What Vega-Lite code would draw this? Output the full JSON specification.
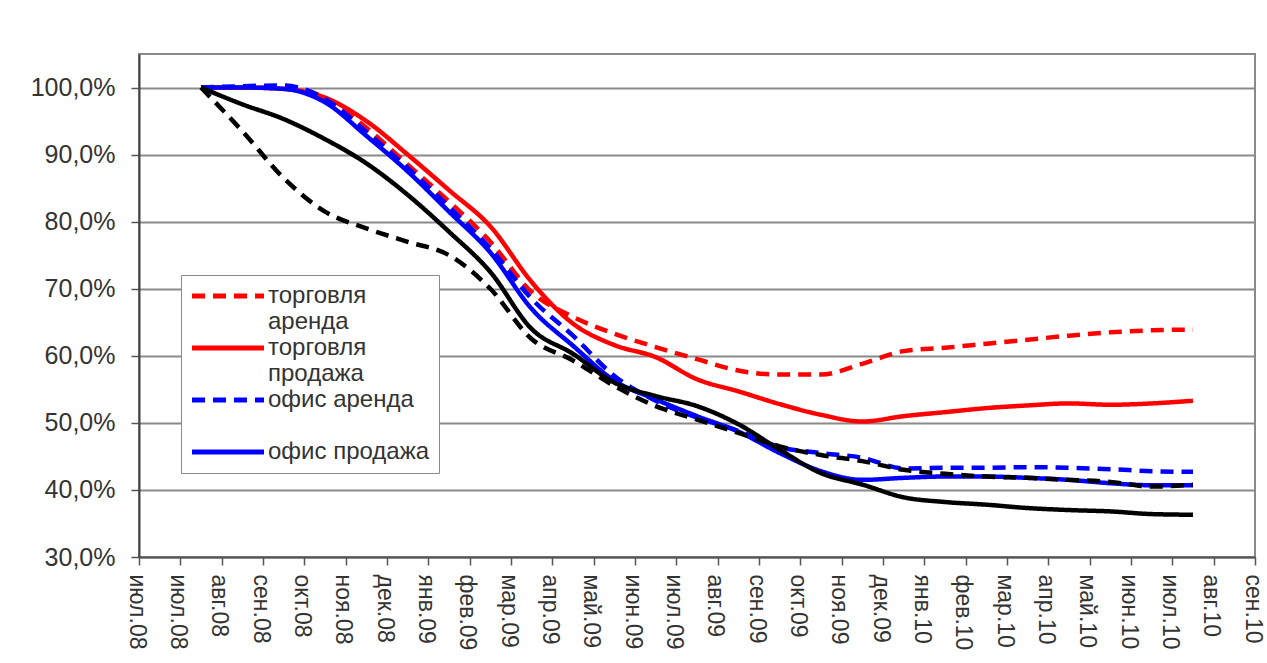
{
  "$schema": "https://vega.github.io/schema/vega-lite/v6.json",
  "width": 1116,
  "height": 503,
  "autosize": {"type": "none"},
  "padding": {"left": 139, "top": 54, "right": 12, "bottom": 106},
  "background": "white",
  "config": {
    "font": "Liberation Sans",
    "view": {"stroke": "#8a8a8a", "strokeWidth": 2},
    "style": {"guide-label": {"lineHeight": 26}}
  },
  "data": {
    "values": [
      {"t": 1.5, "ta": 100, "tp": 100, "oa": 100, "op": 100, "ba": 100, "bp": 100},
      {"t": 2.5, "ta": 100, "tp": 100, "oa": 100.2, "op": 100, "ba": 93.5, "bp": 97.5},
      {"t": 3.5, "ta": 100, "tp": 99.8, "oa": 100.3, "op": 99.8, "ba": 86.5, "bp": 95.3},
      {"t": 4.5, "ta": 98.5, "tp": 98.5, "oa": 98.3, "op": 97.8, "ba": 81.5, "bp": 92.3},
      {"t": 5.5, "ta": 94, "tp": 95, "oa": 93.4, "op": 92.8, "ba": 79, "bp": 88.7},
      {"t": 6.5, "ta": 88.5, "tp": 90, "oa": 88, "op": 87.5, "ba": 77, "bp": 84},
      {"t": 7.5, "ta": 83, "tp": 84.7, "oa": 82.2, "op": 81.5, "ba": 75, "bp": 78.5},
      {"t": 8.5, "ta": 77, "tp": 79.3, "oa": 76, "op": 75.4, "ba": 70, "bp": 72.5},
      {"t": 9.5, "ta": 69.5, "tp": 71, "oa": 68.5, "op": 67, "ba": 62.5, "bp": 64},
      {"t": 10.5, "ta": 65.8, "tp": 64.8, "oa": 63, "op": 61.5, "ba": 59.3, "bp": 60.3},
      {"t": 11.5, "ta": 63.3, "tp": 61.6, "oa": 57, "op": 56.3, "ba": 55.5, "bp": 56},
      {"t": 12.5, "ta": 61.3, "tp": 59.8, "oa": 53.3, "op": 53.5, "ba": 52.5, "bp": 54},
      {"t": 13.5, "ta": 59.5, "tp": 56.5, "oa": 50.8, "op": 51, "ba": 50.5, "bp": 52.5},
      {"t": 14.5, "ta": 57.8, "tp": 54.7, "oa": 48.8, "op": 48.7, "ba": 48.5, "bp": 49.8},
      {"t": 15.5, "ta": 57.2, "tp": 52.8, "oa": 46.4, "op": 45.5, "ba": 46.5, "bp": 46},
      {"t": 16.5, "ta": 57.2, "tp": 51.2, "oa": 45.5, "op": 42.8, "ba": 45.2, "bp": 42.5},
      {"t": 17.5, "ta": 58.8, "tp": 50.2, "oa": 44.8, "op": 41.5, "ba": 44.3, "bp": 40.8},
      {"t": 18.5, "ta": 60.7, "tp": 51, "oa": 43.2, "op": 41.8, "ba": 43, "bp": 38.9},
      {"t": 19.5, "ta": 61.2, "tp": 51.6, "oa": 43.3, "op": 42, "ba": 42.4, "bp": 38.2},
      {"t": 20.5, "ta": 61.8, "tp": 52.2, "oa": 43.3, "op": 42, "ba": 42, "bp": 37.8},
      {"t": 21.5, "ta": 62.4, "tp": 52.6, "oa": 43.4, "op": 41.8, "ba": 41.8, "bp": 37.3},
      {"t": 22.5, "ta": 63, "tp": 52.9, "oa": 43.3, "op": 41.5, "ba": 41.5, "bp": 37},
      {"t": 23.5, "ta": 63.5, "tp": 52.7, "oa": 43.1, "op": 41, "ba": 41.2, "bp": 36.8},
      {"t": 24.5, "ta": 63.8, "tp": 52.9, "oa": 42.8, "op": 40.7, "ba": 40.5, "bp": 36.4},
      {"t": 25.5, "ta": 63.9, "tp": 53.3, "oa": 42.7, "op": 40.7, "ba": 40.8, "bp": 36.3}
    ]
  },
  "transform": [
    {"fold": ["ta", "tp", "oa", "op", "ba", "bp"], "as": ["series", "v"]}
  ],
  "mark": {"type": "line", "interpolate": "monotone", "strokeWidth": 4.5},
  "encoding": {
    "x": {
      "field": "t",
      "type": "quantitative",
      "scale": {"domain": [0, 27], "nice": false, "zero": false},
      "axis": {
        "title": null,
        "values": [0,1,2,3,4,5,6,7,8,9,10,11,12,13,14,15,16,17,18,19,20,21,22,23,24,25,26,27],
        "labelExpr": "['июл.08','июл.08','авг.08','сен.08','окт.08','ноя.08','дек.08','янв.09','фев.09','мар.09','апр.09','май.09','июн.09','июл.09','авг.09','сен.09','окт.09','ноя.09','дек.09','янв.10','фев.10','мар.10','апр.10','май.10','июн.10','июл.10','авг.10','сен.10'][datum.value]",
        "labelAngle": 90,
        "labelAlign": "left",
        "labelBaseline": "middle",
        "labelFontSize": 23,
        "labelColor": "#333333",
        "labelPadding": 9,
        "labelOffset": -3,
        "labelOverlap": false,
        "labelFlush": false,
        "labelBound": false,
        "tickSize": 8,
        "tickColor": "#555555",
        "tickWidth": 1.5,
        "domainColor": "#555555",
        "domainWidth": 2,
        "grid": false
      }
    },
    "y": {
      "field": "v",
      "type": "quantitative",
      "scale": {"domain": [30, 105], "nice": false, "zero": false},
      "axis": {
        "title": null,
        "values": [30, 40, 50, 60, 70, 80, 90, 100],
        "labelExpr": "replace(format(datum.value, '.1f'), '.', ',') + '%'",
        "labelFontSize": 25,
        "labelColor": "#333333",
        "labelPadding": 16,
        "tickSize": 8,
        "tickColor": "#555555",
        "tickWidth": 1.5,
        "domainColor": "#444444",
        "domainWidth": 2,
        "grid": true,
        "gridColor": "#8a8a8a",
        "gridWidth": 2
      }
    },
    "color": {
      "field": "series",
      "type": "nominal",
      "scale": {
        "domain": ["ta", "tp", "oa", "op", "ba", "bp"],
        "range": ["#ff0000", "#ff0000", "#0000ff", "#0000ff", "#000000", "#000000"]
      },
      "legend": {
        "title": null,
        "values": ["ta", "tp", "oa", "op"],
        "labelExpr": "datum.value == 'ta' ? ['торговля', 'аренда'] : datum.value == 'tp' ? ['торговля', 'продажа'] : datum.value == 'oa' ? ['офис аренда', ' '] : 'офис продажа'",
        "orient": "none",
        "legendX": 42,
        "legendY": 221,
        "symbolType": "M-5,0L31,0",
        "symbolSize": 16,
        "symbolStrokeWidth": 5,
        "labelFontSize": 24,
        "labelColor": "#333333",
        "labelBaseline": "middle",
        "labelOffset": 54,
        "labelLimit": 300,
        "rowPadding": 2,
        "padding": 9,
        "strokeColor": "#8a8a8a",
        "fillColor": "white"
      }
    },
    "strokeDash": {
      "field": "series",
      "type": "nominal",
      "scale": {
        "domain": ["ta", "tp", "oa", "op", "ba", "bp"],
        "range": [[13, 8], [1, 0], [13, 8], [1, 0], [13, 8], [1, 0]]
      },
      "legend": {
        "title": null,
        "values": ["ta", "tp", "oa", "op"],
        "labelExpr": "datum.value == 'ta' ? ['торговля', 'аренда'] : datum.value == 'tp' ? ['торговля', 'продажа'] : datum.value == 'oa' ? ['офис аренда', ' '] : 'офис продажа'",
        "orient": "none",
        "legendX": 42,
        "legendY": 221,
        "symbolType": "M-5,0L31,0",
        "symbolSize": 16,
        "symbolStrokeWidth": 5,
        "labelFontSize": 24,
        "labelColor": "#333333",
        "labelBaseline": "middle",
        "labelOffset": 54,
        "labelLimit": 300,
        "rowPadding": 2,
        "padding": 9,
        "strokeColor": "#8a8a8a",
        "fillColor": "white"
      }
    }
  }
}
